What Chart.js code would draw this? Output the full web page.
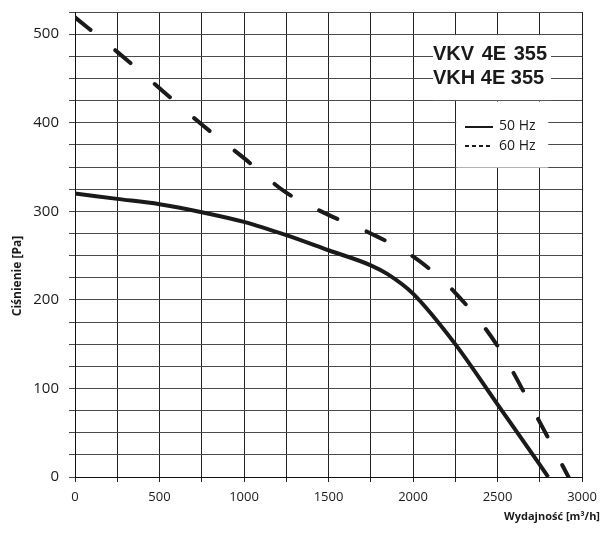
<!DOCTYPE html>
<html>
<head>
<meta charset="utf-8">
<script src="https://cdn.jsdelivr.net/npm/chart.js@4.4.1/dist/chart.umd.min.js"></script>
<style>
  html, body { margin: 0; padding: 0; background: #fff; }
  #wrap { width: 603px; height: 535px; position: relative; }
</style>
</head>
<body>
<div id="wrap"><canvas id="graf"></canvas></div>
<script>
// dane
var modelLabels = ["VKV 4E 355", "VKH 4E 355"];
var seriesNames = ["50 Hz", "60 Hz"];
var flow50 = [0, 250, 500, 750, 1000, 1250, 1500, 1750, 1850, 2000, 2250, 2500, 2750, 2800];
var pressure50 = [320, 314, 308, 299, 288, 273, 256, 239, 229, 207, 150, 82, 14, 0];
var flow60 = [0, 250, 500, 750, 1000, 1250, 1500, 1750, 2000, 2250, 2500, 2750, 2920];
var pressure60 = [519, 480, 439, 398, 360, 321, 296, 275, 249, 208, 148, 62, 0];
var xTickLabels = [0, 500, 1000, 1500, 2000, 2500, 3000];
var yTickLabels = [0, 100, 200, 300, 400, 500];
var xTitle = "Wydajność [m³/h]";
var yTitle = "Ciśnienie [Pa]";

function toPoints(xs, ys) {
    return xs.map(function (x, i) { return { x: x, y: ys[i] }; });
}

// białe pola z opisem modelu i legendą + tytuły osi
var overlayPlugin = {
    id: 'overlay',
    beforeDatasetsDraw: function (chart) {
        var ctx = chart.ctx;
        var x = chart.scales.x, y = chart.scales.y;
        var top = y.getPixelForValue(500), mid = y.getPixelForValue(425);
        ctx.save();
        ctx.fillStyle = '#fff';
        // pole opisu modelu
        ctx.fillRect(433, top + 1, 118, mid - top - 1.5);
        // pole legendy
        ctx.fillRect(x.getPixelForValue(2250) + 1, mid + 1, 92, 66);
        ctx.restore();
    },
    afterDraw: function (chart) {
        var ctx = chart.ctx;
        ctx.save();
        ctx.fillStyle = '#1a1a1a';
        ctx.font = 'bold 20px "Liberation Sans", Arial, sans-serif';
        ctx.textAlign = 'left';
        ctx.textBaseline = 'middle';
        ctx.wordSpacing = '2px';
        ctx.fillText(modelLabels[0], 433, 54);
        ctx.wordSpacing = '0px';
        ctx.fillText(modelLabels[1], 433, 78);

        // legenda
        ctx.strokeStyle = '#1a1a1a';
        ctx.lineWidth = 2;
        ctx.beginPath();
        ctx.moveTo(465, 127);
        ctx.lineTo(493, 127);
        ctx.stroke();
        ctx.setLineDash([4, 3]);
        ctx.beginPath();
        ctx.moveTo(465, 146);
        ctx.lineTo(493, 146);
        ctx.stroke();
        ctx.setLineDash([]);
        ctx.font = '14px "Open Sans", sans-serif';
        ctx.fillText(seriesNames[0], 499, 126);
        ctx.fillText(seriesNames[1], 499, 146);

        // tytuły osi
        ctx.font = 'bold 11px "Open Sans", sans-serif';
        ctx.textAlign = 'right';
        ctx.fillText(xTitle, 600, 517);
        ctx.translate(18, 276);
        ctx.rotate(-Math.PI / 2);
        ctx.textAlign = 'center';
        ctx.font = 'bold 12px "Open Sans", sans-serif';
        ctx.fillText(yTitle, 0, 0);
        ctx.restore();
    }
};

function createCurveChart() {
    var ctx = document.getElementById('graf').getContext('2d');
    new Chart(ctx, {
        type: 'line',
        data: {
            datasets: [{
                label: seriesNames[0],
                data: toPoints(flow50, pressure50),
                borderColor: '#1a1a1a',
                borderWidth: 4,
                pointRadius: 0,
                cubicInterpolationMode: 'monotone',
                fill: false
            }, {
                label: seriesNames[1],
                data: toPoints(flow60, pressure60),
                borderColor: '#1a1a1a',
                borderWidth: 4,
                borderDash: [20, 32],
                borderCapStyle: 'round',
                pointRadius: 0,
                cubicInterpolationMode: 'monotone',
                fill: false
            }]
        },
        options: {
            responsive: true,
            maintainAspectRatio: false,
            animation: false,
            layout: { padding: { left: 0, right: 21, top: 12, bottom: 0 } },
            plugins: {
                legend: { display: false },
                tooltip: { enabled: false }
            },
            scales: {
                x: {
                    type: 'linear',
                    min: 0,
                    max: 3000,
                    afterFit: function (s) { s.height = 58; s.paddingLeft = 0; s.paddingRight = 0; },
                    ticks: {
                        stepSize: 250,
                        autoSkip: false,
                        maxRotation: 0,
                        padding: 7,
                        color: '#1a1a1a',
                        font: { family: 'Open Sans', size: 13 },
                        callback: function (v) { return xTickLabels.indexOf(v) >= 0 ? String(v) : ''; }
                    },
                    grid: { color: '#222', lineWidth: 1, tickLength: 5 },
                    border: { color: '#111', width: 1 }
                },
                y: {
                    min: 0,
                    max: 525,
                    afterFit: function (s) { s.width = 75; s.paddingTop = 0; s.paddingBottom = 0; },
                    ticks: {
                        stepSize: 25,
                        autoSkip: false,
                        padding: 10,
                        color: '#1a1a1a',
                        font: { family: 'Open Sans', size: 15 },
                        callback: function (v) { return yTickLabels.indexOf(v) >= 0 ? String(v) : ''; }
                    },
                    grid: { color: '#4a4a4a', lineWidth: 1, tickLength: 6 },
                    border: { color: '#111', width: 1 }
                }
            }
        },
        plugins: [overlayPlugin]
    });
}

document.addEventListener('DOMContentLoaded', function () {
    createCurveChart();
});
</script>
</body>
</html>
